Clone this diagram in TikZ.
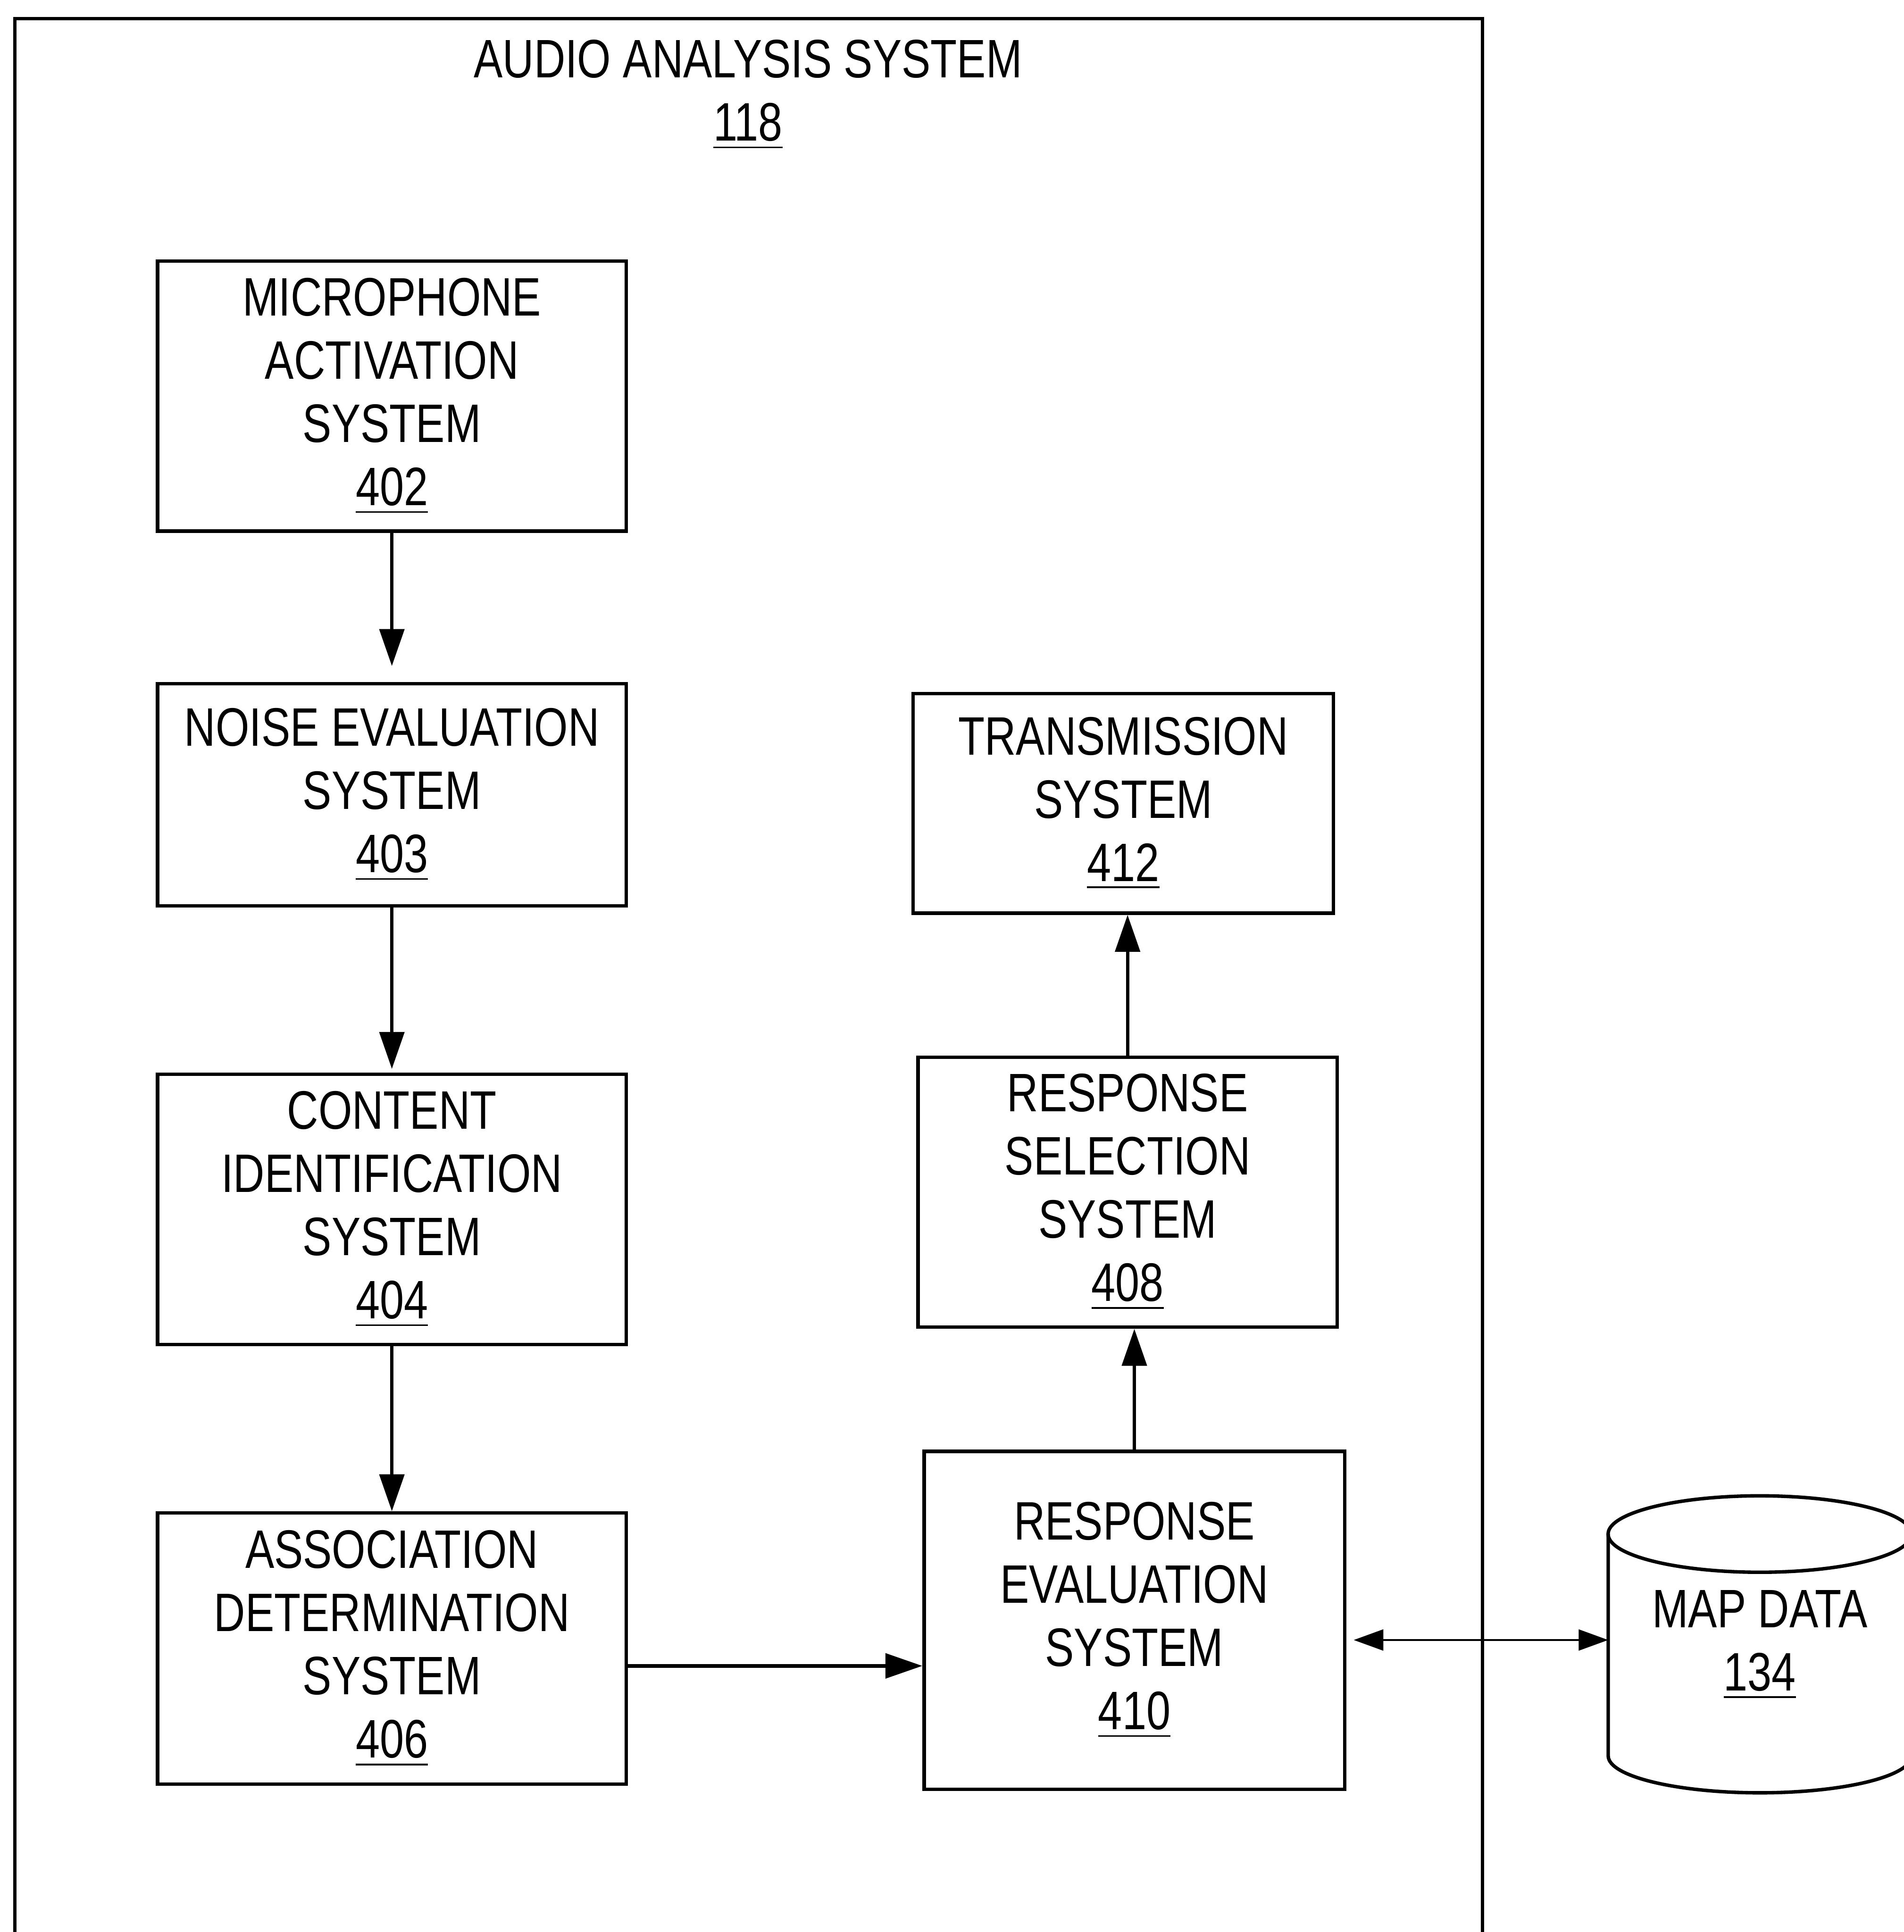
\documentclass[tikz,border=0pt]{standalone}
\usepackage{fontspec}
\setmainfont{Liberation Sans}[FakeStretch=0.8]
\usetikzlibrary{arrows.meta}
\begin{document}
\begin{tikzpicture}[x=0.01cm,y=-0.01cm,
  line/.style={line width=0.8pt},
  box/.style={draw, line width=0.8pt, align=center, inner sep=0pt, minimum width=#1},
  txt/.style={font=\fontsize{12.5}{14.6}\selectfont, align=center},
  arr/.style={line width=0.8pt, -{Triangle[length=0.30cm,width=0.20cm]}},
  biarr/.style={line width=0.45pt, {Triangle[length=0.24cm,width=0.17cm]}-{Triangle[length=0.24cm,width=0.17cm]}}
]
\useasboundingbox (0,0) rectangle (1545,1568);
% outer system box (runs past the bottom edge)
\draw[line] (12,1620) -- (12,15) -- (1203,15) -- (1203,1620);
\node[txt] (title) at (607,77) {AUDIO ANALYSIS SYSTEM\\\underline{118}};

\node[box=3.80cm, txt, minimum height=2.19cm] (b402) at (318,321.5) {MICROPHONE\\ACTIVATION\\SYSTEM\\\underline{402}};
\node[box=3.80cm, txt, minimum height=1.80cm] (b403) at (318,645) {NOISE EVALUATION\\SYSTEM\\\underline{403}};
\node[box=3.80cm, txt, minimum height=2.19cm] (b404) at (318,981.5) {CONTENT\\IDENTIFICATION\\SYSTEM\\\underline{404}};
\node[box=3.80cm, txt, minimum height=2.20cm] (b406) at (318,1338) {ASSOCIATION\\DETERMINATION\\SYSTEM\\\underline{406}};
\node[box=3.41cm, txt, minimum height=1.78cm] (b412) at (911.5,652) {TRANSMISSION\\SYSTEM\\\underline{412}};
\node[box=3.40cm, txt, minimum height=2.19cm] (b408) at (915,967.5) {RESPONSE\\SELECTION\\SYSTEM\\\underline{408}};
\node[box=3.41cm, txt, minimum height=2.74cm] (b410) at (920.5,1315) {RESPONSE\\EVALUATION\\SYSTEM\\\underline{410}};

% map data cylinder
\draw[line] (1305,1245) -- (1305,1425) arc[start angle=180, end angle=360, x radius=1.23cm, y radius=0.30cm] -- (1551,1245);
\draw[line] (1428,1245) ellipse[x radius=1.23cm, y radius=0.31cm];
\node[txt] (map) at (1428,1335) {MAP DATA\\\underline{134}};
\coordinate (mapw) at (1305,1331);

% connectors
\draw[arr, shorten >=0.13cm] (b402.south) -- (b403.north);
\draw[arr, shorten >=0.03cm] (b403.south) -- (b404.north);
\draw[arr] (b404.south) -- (b406.north);
\draw[arr] ([yshift=-0.14cm]b406.east) -- ([yshift=-0.14cm]b406.east -| b410.west);
\draw[arr] (b410.north) -- (b410.north |- b408.south);
\draw[arr] (b408.north) -- (b408.north |- b412.south);
\draw[biarr, shorten <=0.06cm] (b410.east |- mapw) -- (mapw);
\end{tikzpicture}
\end{document}
